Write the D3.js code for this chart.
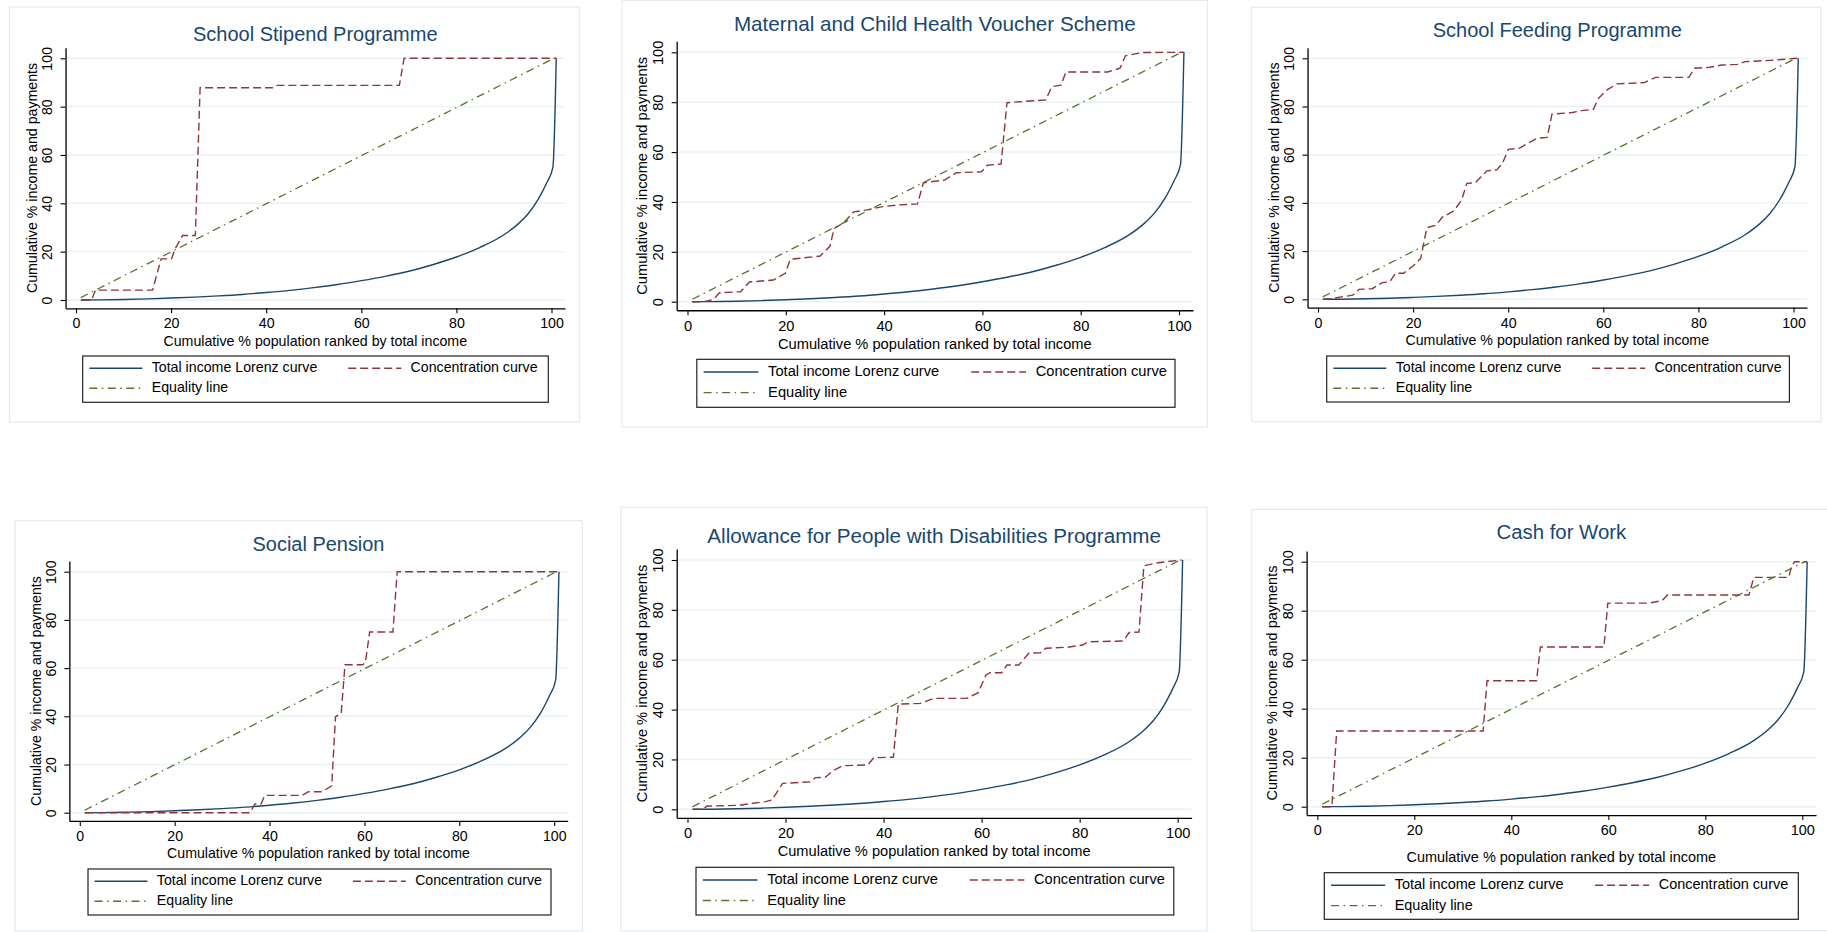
<!DOCTYPE html>
<html lang="en">
<head>
<meta charset="utf-8">
<script src="https://cdn.jsdelivr.net/npm/d3@7"></script>
<style>
    body { margin: 0; background: #fff; }
    svg { display: block; font-family: "Liberation Sans", Arial, sans-serif; }
</style>
</head>
<body>
<script>
// ---- data ----
const titles = [
    "School Stipend Programme",
    "Maternal and Child Health Voucher Scheme",
    "School Feeding Programme",
    "Social Pension",
    "Allowance for People with Disabilities Programme",
    "Cash for Work"
];
const tickValues = [0, 20, 40, 60, 80, 100];
const xLabel = "Cumulative % population ranked by total income";
const yLabel = "Cumulative % income and payments";
const legendLabels = ["Total income Lorenz curve", "Concentration curve", "Equality line"];

// same Lorenz curve in every panel
const lorenzCurve = [[1,0],[5,0.05],[10,0.2],[15,0.45],[20,0.8],[25,1.2],[30,1.7],[35,2.3],
    [40,3.1],[45,4.0],[50,5.1],[55,6.4],[60,8.0],[65,9.8],[70,11.9],[75,14.6],[80,17.8],
    [85,21.8],[90,27],[93,31.5],[95,35.5],[97,41],[98,44.5],[99,48.5],[100.3,55],[101,100]];
const equalityLine = [[1,1],[100.5,100]];

const stipendCurve = [[1.2,0],[3.3,0],[4.1,4.1],[16.1,4.1],[17.9,17],[20.1,17],[20.8,21],
    [22.4,26.7],[25.1,26.7],[26.1,87.8],[41.5,87.8],[42.3,88.8],[68,88.8],[69,100],[101,100]];
const maternalCurve = [[0.9,0],[3.3,0],[5.3,0.9],[6.5,3.6],[10.8,4],[12.6,7.9],[17.5,8.7],
    [19.9,11.4],[20.9,17],[27,18.3],[29,22.3],[29.8,29.3],[31.8,31.7],[33.8,36],[36.5,36.8],
    [39.7,38.1],[42.8,38.8],[46.8,39.2],[48,47.7],[52.3,48.8],[54.7,51.7],[59.8,52.1],[61,54.7],
    [63.8,55.2],[65,79.8],[72.9,80.9],[74.1,86.2],[76,86.8],[77,92.1],[85.5,92.1],[88,93.6],
    [89.1,98.6],[92.6,99.9],[101,100]];
const feedingCurve = [[1.1,0],[2.9,0.3],[5.3,1.1],[7.3,1.7],[8.6,4.1],[11.4,4.4],[13.5,6.9],
    [15.1,7.3],[16.3,10.8],[18,10.8],[20,13.8],[21.6,17],[22.9,29.7],[24.9,30.8],[26.1,34],
    [28.6,36.7],[30.2,41.2],[31.3,48.1],[33.1,48.4],[35.5,53.3],[37.6,53.7],[38.8,56.4],[40,62.2],
    [42.4,62.7],[44.1,64.7],[46.1,66.8],[48.2,67.2],[49.2,76.8],[53.5,77.5],[55.5,78.3],[57.9,78.8],
    [59,83.4],[60.8,86.9],[62.9,89.4],[68.6,89.9],[71,92.1],[78,92.1],[79.2,95.9],[82.4,96.3],
    [84.9,97.2],[88.2,97.5],[89.8,98.6],[95.5,99.2],[100.8,100]];
const pensionCurve = [[1.2,0],[35.9,0],[36.9,3.6],[38.2,3.6],[39,7.2],[46.9,7.2],[48.2,8.7],
    [51,8.7],[53.1,11.1],[53.9,39.8],[55.1,41.2],[55.9,61.4],[59.6,61.4],[60.2,62.2],[61.1,75],
    [66,75],[66.9,100],[101.2,100]];
const disabilityCurve = [[1.1,0],[3,0],[4,1.3],[10.7,1.6],[12.3,2.1],[15.9,3.1],[17.2,3.7],
    [19.4,10.4],[25,11],[26.1,12.7],[28.1,12.8],[29.7,15.5],[31.7,17.5],[36.8,17.8],[38,20.7],
    [42,20.9],[43,42.2],[47.5,42.5],[50.2,44.5],[57,44.5],[59.3,46.8],[60.9,53.9],[61.7,54.8],
    [64.1,54.8],[65.2,57.9],[67.6,57.9],[69.6,62.6],[72,62.8],[73.1,64.6],[77.5,65],[80.6,65.9],
    [81.8,67.2],[88.9,67.5],[90.1,70.9],[92.1,71.1],[93.1,97.7],[96,98.9],[100.8,100]];
const cashCurve = [[1.1,0],[3,0],[4,30.9],[34.2,30.9],[35,51.4],[45.2,51.4],[46,65.2],[59.1,65.2],
    [59.9,83.1],[68.3,83.1],[71.1,84.1],[72.2,86.4],[89,86.4],[90,93.6],[97.2,93.6],[97.8,98.1],
    [98.4,100],[101,100]];
const concentrationCurves = [stipendCurve, maternalCurve, feedingCurve, pensionCurve, disabilityCurve, cashCurve];

// ---- layout (pixels) ----
const panels = [
    {box: [9.5, 7, 579.5, 422],     x0: 76,     x100: 551.5,  y0: 300,   y100: 58.3,  titleY: 40.7,  xTitleOff: 32.4, legend: [82.7, 356, 548.3, 402.3]},
    {box: [622, 0.5, 1207.5, 427],  x0: 687.5,  x100: 1179,   y0: 301.7, y100: 52.3,  titleY: 30.7,  xTitleOff: 32.3, legend: [696.8, 359.3, 1175, 407.3]},
    {box: [1251.5, 7.3, 1821, 421.7], x0: 1318, x100: 1793.5, y0: 299.3, y100: 58.3,  titleY: 37.3,  xTitleOff: 32.4, legend: [1326.7, 356, 1789.4, 402]},
    {box: [15.2, 520.7, 582.4, 931], x0: 79.8,  x100: 554.2,  y0: 812.7, y100: 571.7, titleY: 550.7, xTitleOff: 32.4, legend: [88, 869, 551, 915]},
    {box: [621, 507.3, 1207, 931],  x0: 687.5,  x100: 1177.7, y0: 809.3, y100: 560,   titleY: 542.7, xTitleOff: 32.3, legend: [696, 867.3, 1173.8, 915]},
    {box: [1251.7, 509.3, 1830, 930.7], x0: 1317.3, x100: 1802.3, y0: 806.7, y100: 561.7, titleY: 539.3, xTitleOff: 41, legend: [1324.3, 872.7, 1798.3, 919.3]}
];

const navy = "#1a476f", maroon = "#90353b", green = "#55752f", grid = "#eaf2f3";
const concDash = "8,4";
const eqDash = "8,4.5,1.5,4.5";

const W = 1827, H = 932;
const svg = d3.select("body").append("svg").attr("width", W).attr("height", H);

panels.forEach((p, i) => {
    let ux = (p.x100 - p.x0) / 100;
    let uy = (p.y0 - p.y100) / 100;
    let k = ux / 4.755;

    let xScale = d3.scaleLinear()
                    .domain([-2.2, 102.84])
                    .range([p.x0 - 2.2 * ux, p.x100 + 2.84 * ux]);
    let yScale = d3.scaleLinear()
                    .domain([-3.43, 104.39])
                    .range([p.y0 + 3.43 * uy, p.y100 - 4.39 * uy]);

    let [axL, axR] = xScale.range();
    let [axB, axT] = yScale.range();
    let g = svg.append("g");

    // outer frame
    g.append("rect")
        .attr("x", p.box[0]).attr("y", p.box[1])
        .attr("width", p.box[2] - p.box[0]).attr("height", p.box[3] - p.box[1])
        .attr("fill", "none").attr("stroke", "#e4ecee").attr("stroke-width", 1.2);

    // gridlines
    g.selectAll(".grid")
        .data(tickValues)
        .enter()
        .append("line")
        .attr("x1", axL).attr("x2", axR)
        .attr("y1", (d) => yScale(d)).attr("y2", (d) => yScale(d))
        .attr("stroke", grid).attr("stroke-width", 1.4);

    // title
    g.append("text")
        .attr("x", (axL + axR) / 2)
        .attr("y", p.titleY)
        .attr("text-anchor", "middle")
        .attr("font-size", 20 * k)
        .attr("fill", navy)
        .text(titles[i]);

    // axes
    let xAxis = d3.axisBottom(xScale).tickValues(tickValues).tickSizeInner(5).tickSizeOuter(0).tickPadding(3);
    let yAxis = d3.axisLeft(yScale).tickValues(tickValues).tickSizeInner(5).tickSizeOuter(0);

    let gx = g.append("g")
        .attr("transform", "translate(0," + axB + ")")
        .call(xAxis);
    gx.selectAll("text")
        .attr("y", 15 * k).attr("dy", "0.35em")
        .attr("font-size", 14.2 * k).attr("fill", "#000")
        .attr("font-family", null);

    let gy = g.append("g")
        .attr("transform", "translate(" + axL + ",0)")
        .call(yAxis);
    gy.selectAll("text")
        .attr("transform", "rotate(-90)")
        .attr("x", 0).attr("y", -18.2 * k).attr("dy", "0.35em")
        .attr("text-anchor", "middle")
        .attr("font-size", 14.2 * k).attr("fill", "#000")
        .attr("font-family", null);

    [gx, gy].forEach((a) => {
        a.select(".domain").attr("stroke", "#000").attr("stroke-width", 1.3);
        a.selectAll(".tick line").attr("stroke", "#000").attr("stroke-width", 1.1);
    });

    // axis titles
    g.append("text")
        .attr("x", (axL + axR) / 2)
        .attr("y", axB + p.xTitleOff * k)
        .attr("dy", "0.35em")
        .attr("text-anchor", "middle")
        .attr("font-size", 14.2 * k)
        .text(xLabel);

    g.append("text")
        .attr("transform", "translate(" + (axL - 33.8 * k) + "," + ((axT + axB) / 2) + ") rotate(-90)")
        .attr("dy", "0.35em")
        .attr("text-anchor", "middle")
        .attr("font-size", 14.2 * k)
        .text(yLabel);

    // curves
    let line = d3.line().x((d) => xScale(d[0])).y((d) => yScale(d[1]));

    g.append("path")
        .datum(lorenzCurve)
        .attr("d", line.curve(d3.curveMonotoneX))
        .attr("fill", "none").attr("stroke", navy).attr("stroke-width", 1.4);

    line.curve(d3.curveLinear);
    g.append("path")
        .datum(concentrationCurves[i])
        .attr("d", line)
        .attr("fill", "none").attr("stroke", maroon).attr("stroke-width", 1.4)
        .attr("stroke-dasharray", concDash);

    g.append("path")
        .datum(equalityLine)
        .attr("d", line)
        .attr("fill", "none").attr("stroke", green).attr("stroke-width", 1.3)
        .attr("stroke-dasharray", eqDash);

    // legend
    let [lx0, ly0, lx1, ly1] = p.legend;
    g.append("rect")
        .attr("x", lx0).attr("y", ly0)
        .attr("width", lx1 - lx0).attr("height", ly1 - ly0)
        .attr("fill", "#fff").attr("stroke", "#222").attr("stroke-width", 1.2);

    let items = [
        {label: legendLabels[0], col: 0, row: 0, color: navy, dash: null},
        {label: legendLabels[1], col: 1, row: 0, color: maroon, dash: concDash},
        {label: legendLabels[2], col: 0, row: 1, color: green, dash: eqDash}
    ];
    items.forEach((it) => {
        let cx = lx0 + (it.col === 0 ? 6.6 : 265.5) * k;
        let cy = ly0 + (it.row === 0 ? 11.3 : 31.3) * k;
        g.append("line")
            .attr("x1", cx).attr("x2", cx + 53 * k)
            .attr("y1", cy + 1).attr("y2", cy + 1)
            .attr("stroke", it.color).attr("stroke-width", 1.4)
            .attr("stroke-dasharray", it.dash);
        g.append("text")
            .attr("x", cx + 62.4 * k)
            .attr("y", cy)
            .attr("dy", "0.35em")
            .attr("font-size", 14.2 * k)
            .text(it.label);
    });
});
</script>
</body>
</html>
